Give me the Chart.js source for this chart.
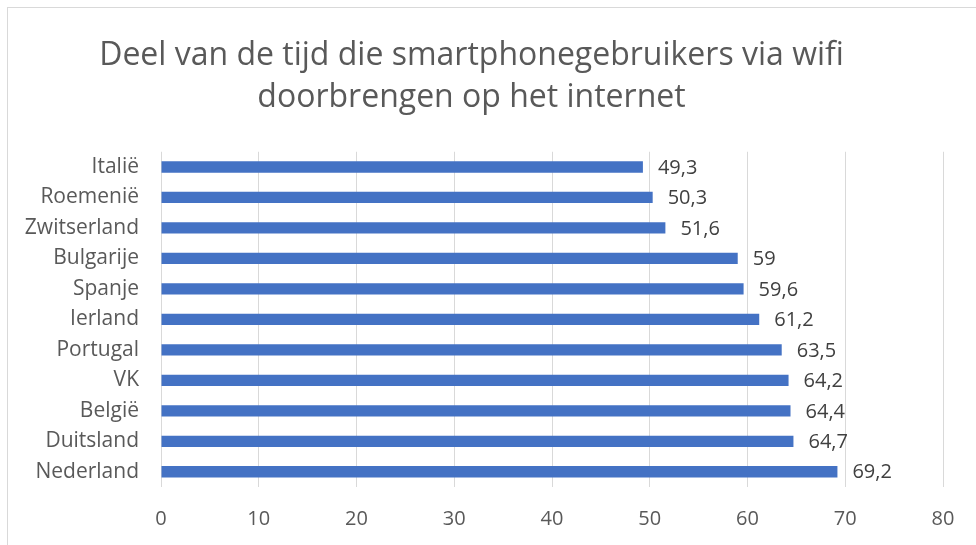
<!DOCTYPE html>
<html lang="nl">
<head>
  <meta charset="UTF-8" />
  <title>Wifi-gebruik smartphones</title>
  <script src="https://cdn.jsdelivr.net/npm/chart.js"></script>
  <style>
    body { margin: 0; background: #fff; overflow: hidden; }
    .wrap { position: relative; width: 976px; height: 545px; }
    .rand { position: absolute; left: 7px; top: 7px; width: 1000px; height: 600px; border: 1px solid #d9d9d9; pointer-events: none; }
  </style>
</head>
<body>
  <div class="wrap">
    <canvas id="grafiek" width="976" height="545"></canvas>
    <div class="rand"></div>
  </div>

  <script>
    const landen = ['Italië', 'Roemenië', 'Zwitserland', 'Bulgarije', 'Spanje', 'Ierland', 'Portugal', 'VK', 'België', 'Duitsland', 'Nederland'];
    const aandeel = [49.3, 50.3, 51.6, 59, 59.6, 61.2, 63.5, 64.2, 64.4, 64.7, 69.2];
    const titel = ['Deel van de tijd die smartphonegebruikers via wifi', 'doorbrengen op het internet'];

    // waarden rechts naast de balken, met komma als decimaalteken
    const waardeLabels = {
      id: 'waardeLabels',
      afterDatasetsDraw(chart) {
        const ctx = chart.ctx;
        const meta = chart.getDatasetMeta(0);
        ctx.save();
        ctx.font = '20px "Open Sans"';
        ctx.fillStyle = '#404040';
        ctx.textAlign = 'left';
        ctx.textBaseline = 'middle';
        meta.data.forEach((bar, i) => {
          const tekst = String(chart.data.datasets[0].data[i]).replace('.', ',');
          ctx.fillText(tekst, bar.x + 15, bar.y + 1);
        });
        ctx.restore();
      }
    };

    new Chart(document.getElementById('grafiek'), {
      type: 'bar',
      data: {
        labels: landen,
        datasets: [{
          data: aandeel,
          backgroundColor: '#4472c4',
          categoryPercentage: 1,
          barPercentage: 0.37
        }]
      },
      options: {
        indexAxis: 'y',
        responsive: false,
        animation: false,
        layout: { padding: { left: 0, right: 33, top: 0, bottom: 0 } },
        plugins: {
          legend: { display: false },
          tooltip: { enabled: false },
          title: {
            display: true,
            text: titel,
            color: '#595959',
            font: { family: 'Open Sans', size: 32, weight: 'normal', lineHeight: 1.34 },
            padding: { top: 34, bottom: 32 }
          }
        },
        scales: {
          x: {
            min: 0,
            max: 80,
            ticks: { stepSize: 10, color: '#595959', font: { family: 'Open Sans', size: 20 }, padding: 20 },
            grid: { color: '#d9d9d9', drawTicks: false },
            border: { display: false },
            afterFit(scale) { scale.height = 58; }
          },
          y: {
            ticks: { color: '#595959', font: { family: 'Open Sans', size: 21 }, padding: 22 },
            grid: { display: false, drawTicks: false },
            border: { display: false },
            afterFit(scale) { scale.width = 161; }
          }
        }
      },
      plugins: [waardeLabels]
    });
  </script>
</body>
</html>
